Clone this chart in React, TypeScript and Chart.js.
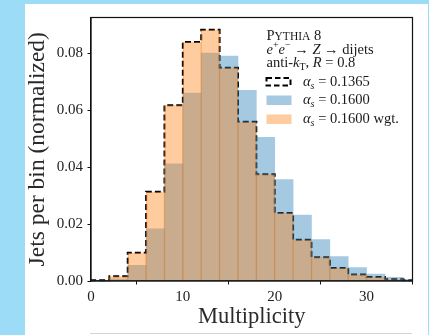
import React, { useEffect, useRef } from "react";
import { Chart, registerables } from "chart.js";

Chart.register(...registerables);

// Histogram bins: left edges, width 2 in multiplicity
const binEdges = [0, 2, 4, 6, 8, 10, 12, 14, 16, 18, 20, 22, 24, 26, 28, 30, 32, 34];
const binWidth = 2;

// Normalized jets per bin
const alphaS1365 = [0.0003, 0.0017, 0.0099, 0.0313, 0.0617, 0.0839, 0.0882, 0.0749, 0.0559, 0.0375, 0.0239, 0.0145, 0.0083, 0.0046, 0.0023, 0.0014, 0.0006, 0.0003];
const alphaS1600 = [0.0001, 0.0008, 0.0055, 0.0183, 0.0411, 0.066, 0.08, 0.079, 0.0669, 0.0504, 0.0356, 0.0231, 0.0145, 0.0086, 0.0047, 0.0024, 0.0013, 0.0006];
const alphaS1600Wgt = [0.0003, 0.0017, 0.0099, 0.0313, 0.0617, 0.0839, 0.0882, 0.0749, 0.0559, 0.0375, 0.0239, 0.0145, 0.0083, 0.0046, 0.0023, 0.0014, 0.0006, 0.0003];

const xTicks = [0, 10, 20, 30];
const yTicks = [0.0, 0.02, 0.04, 0.06, 0.08];
const xRange = [0, 35];
const yRange = [0, 0.0925];

const xTitle = "Multiplicity";
const yTitle = "Jets per bin (normalized)";

const SERIF = '"Liberation Serif", "Times New Roman", serif';
const BLUE_FILL = "rgba(31,119,180,0.4)";
const ORANGE_FILL = "rgba(255,127,14,0.4)";

type Seg = { t: string; italic?: boolean; size?: number; dy?: number };

function drawRun(ctx: CanvasRenderingContext2D, x: number, y: number, segs: Seg[], base: number) {
  let cx = x;
  for (const s of segs) {
    const size = s.size ?? base;
    ctx.font = `${s.italic ? "italic " : ""}${size}px ${SERIF}`;
    ctx.fillText(s.t, cx, y + (s.dy ?? 0));
    cx += ctx.measureText(s.t).width;
  }
}

// Text lines of the annotation block and the legend entries
const headerLines: Seg[][] = [
  [{ t: "P" }, { t: "YTHIA", size: 11.5 }, { t: " 8" }],
  [
    { t: "e", italic: true },
    { t: "+", size: 10, dy: -5.5 },
    { t: "e", italic: true },
    { t: "\u2212", size: 10, dy: -5.5 },
    { t: " \u2192 " },
    { t: "Z", italic: true },
    { t: " \u2192 dijets" },
  ],
  [
    { t: "anti-" },
    { t: "k", italic: true },
    { t: "T", size: 10, dy: 3 },
    { t: ", " },
    { t: "R", italic: true },
    { t: " = 0.8" },
  ],
];

const legendLabels: Seg[][] = [
  [{ t: "\u03b1", italic: true }, { t: "s", italic: true, size: 10, dy: 3 }, { t: " = 0.1365" }],
  [{ t: "\u03b1", italic: true }, { t: "s", italic: true, size: 10, dy: 3 }, { t: " = 0.1600" }],
  [{ t: "\u03b1", italic: true }, { t: "s", italic: true, size: 10, dy: 3 }, { t: " = 0.1600 wgt." }],
];

const annotationPlugin = {
  id: "frameAndLegend",
  afterDraw(chart: any) {
    const { ctx, chartArea: a } = chart;
    ctx.save();
    // full frame around the axes
    ctx.strokeStyle = "#111";
    ctx.lineWidth = 1.2;
    ctx.strokeRect(a.left, a.top, a.right - a.left, a.bottom - a.top);

    const x0 = a.right - 146;
    const base = 14.5;
    ctx.fillStyle = "#1a1a1a";
    ctx.textBaseline = "alphabetic";
    ctx.textAlign = "left";
    const headerBase = [a.top + 22.5, a.top + 36, a.top + 49.3];
    headerLines.forEach((segs, i) => drawRun(ctx, x0, headerBase[i], segs, base));

    // legend handles
    const hx = x0 - 1;
    const hw = 26;
    const rows = [a.top + 59.5, a.top + 78, a.top + 97];
    const hh = 8.5;
    ctx.setLineDash([5.5, 3]);
    ctx.lineWidth = 2;
    ctx.strokeStyle = "#000";
    ctx.strokeRect(hx + 1, rows[0] + 1, hw - 2, hh - 1);
    ctx.setLineDash([]);
    ctx.fillStyle = BLUE_FILL;
    ctx.fillRect(hx + 1, rows[1], hw - 1, hh + 1);
    ctx.fillStyle = ORANGE_FILL;
    ctx.fillRect(hx + 1, rows[2], hw - 1, hh + 1);

    ctx.fillStyle = "#1a1a1a";
    const lx = x0 + 36.5;
    legendLabels.forEach((segs, i) => drawRun(ctx, lx, rows[i] + 8.5, segs, base));
    ctx.restore();
  },
};

function toBars(values: number[]) {
  return binEdges.map((e, i) => ({ x: e + binWidth / 2, y: values[i] }));
}

function toSteps(values: number[]) {
  const pts = [{ x: binEdges[0], y: 0 }];
  binEdges.forEach((e, i) => pts.push({ x: e, y: values[i] }));
  const end = binEdges[binEdges.length - 1] + binWidth;
  pts.push({ x: end, y: values[values.length - 1] });
  pts.push({ x: end, y: 0 });
  return pts;
}

export default function App() {
  const canvasRef = useRef<HTMLCanvasElement | null>(null);

  useEffect(() => {
    const canvas = canvasRef.current;
    if (!canvas) return;
    const tickFont = { family: SERIF, size: 15 };
    const xTitleFont = { family: SERIF, size: 22.5, lineHeight: 1 };
    const yTitleFont = { family: SERIF, size: 23.5, lineHeight: 1 };
    const chart = new Chart(canvas, {
      type: "bar",
      data: {
        datasets: [
          {
            type: "bar",
            label: "alpha_s = 0.1600 wgt.",
            data: toBars(alphaS1600Wgt),
            backgroundColor: ORANGE_FILL,
            borderColor: "rgba(230,120,30,0.35)",
            borderWidth: { left: 0.5, right: 0.5, top: 0, bottom: 0 },
            grouped: false,
            barPercentage: 1,
            categoryPercentage: 1,
            clip: 0,
            order: 0,
          } as any,
          {
            type: "bar",
            label: "alpha_s = 0.1600",
            data: toBars(alphaS1600),
            backgroundColor: BLUE_FILL,
            borderWidth: 0,
            grouped: false,
            barPercentage: 1,
            categoryPercentage: 1,
            clip: 0,
            order: 1,
          } as any,
          {
            type: "line",
            label: "alpha_s = 0.1365",
            data: toSteps(alphaS1365),
            borderColor: "#000",
            borderWidth: 2,
            borderDash: [6, 3],
            stepped: "before",
            pointRadius: 0,
            fill: false,
            clip: { left: 0, right: 0, top: 0, bottom: 2 },
            order: 2,
          } as any,
        ],
      },
      options: {
        responsive: false,
        animation: false,
        devicePixelRatio: 1,
        layout: { padding: { top: 9.3, right: 15.5, left: 0, bottom: 0 } },
        plugins: { legend: { display: false }, tooltip: { enabled: false } },
        scales: {
          x: {
            type: "linear",
            min: xRange[0],
            max: xRange[1],
            offset: false,
            afterFit: (s: any) => {
              s.height = 54;
            },
            afterBuildTicks: (s: any) => {
              s.ticks = xTicks.map((v) => ({ value: v }));
            },
            grid: { display: true, drawOnChartArea: false, drawTicks: true, tickLength: 3.5, color: "#111", lineWidth: 1 },
            border: { display: true, color: "#111", width: 1.2 },
            ticks: { font: tickFont, color: "#222", padding: 3.5, maxRotation: 0, callback: (v: any) => String(v) },
            title: { display: true, text: xTitle, font: xTitleFont, color: "#2a2a2a", padding: { top: 0, bottom: 6.5 } },
          },
          y: {
            type: "linear",
            min: yRange[0],
            max: yRange[1],
            afterFit: (s: any) => {
              s.width = 66;
            },
            afterBuildTicks: (s: any) => {
              s.ticks = yTicks.map((v) => ({ value: v }));
            },
            grid: { display: true, drawOnChartArea: false, drawTicks: true, tickLength: 3.5, color: "#111", lineWidth: 1 },
            border: { display: true, color: "#111", width: 1.2 },
            ticks: { font: tickFont, color: "#222", padding: 4.5, callback: (v: any) => Number(v).toFixed(2) },
            title: { display: true, text: yTitle, font: yTitleFont, color: "#2a2a2a", padding: { top: 1, bottom: 0 } },
          },
        },
      },
      plugins: [annotationPlugin],
    });
    return () => chart.destroy();
  }, []);

  return (
    <div style={{ position: "fixed", left: 0, top: 0, width: 429, height: 335, background: "#9cdcf6", overflow: "hidden" }}>
      <div style={{ position: "absolute", left: 25, top: 4, width: 403, height: 331, background: "#fff" }}>
        <canvas ref={canvasRef} width={403} height={331} style={{ display: "block", width: 403, height: 331 }} />
      </div>
      <div style={{ position: "absolute", left: 90, top: 333, width: 322, height: 1, background: "#d4d4d4" }} />
    </div>
  );
}
